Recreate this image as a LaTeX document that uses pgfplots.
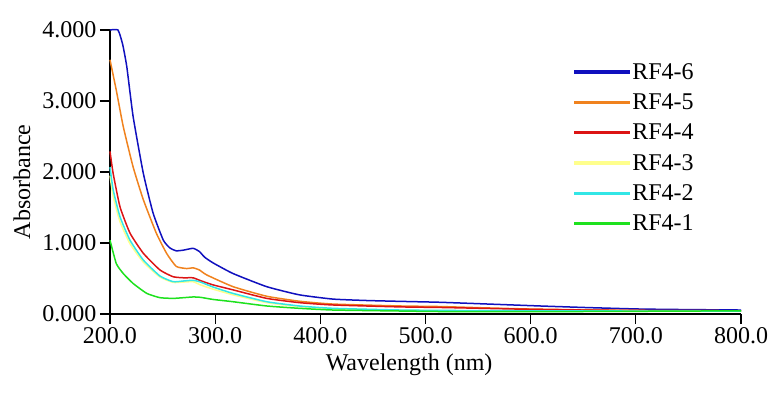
\documentclass[border=0pt]{standalone}
\usepackage{fontspec}
\setmainfont{Liberation Serif}
\usepackage{pgfplots}
\pgfplotsset{compat=1.18}
\definecolor{rfblue}{RGB}{16,16,190}
\definecolor{rforange}{RGB}{240,130,30}
\definecolor{rfred}{RGB}{220,20,20}
\definecolor{rfyellow}{RGB}{255,255,140}
\definecolor{rfcyan}{RGB}{50,230,230}
\definecolor{rfgreen}{RGB}{30,225,30}
\begin{document}
\begin{tikzpicture}
\begin{axis}[
  at={(110pt,86pt)}, anchor=south west,
  scale only axis, width=631pt, height=284pt,
  xmin=200, xmax=800, ymin=0, ymax=4,
  axis x line*=bottom, axis y line*=left,
  axis line style={line width=1.6pt},
  every tick/.style={line width=1.3pt, black},
  tick align=outside, major tick length=10pt,
  xtick={200,300,400,500,600,700,800},
  xticklabels={200.0,300.0,400.0,500.0,600.0,700.0,800.0},
  ytick={0,1,2,3,4},
  yticklabels={0.000,1.000,2.000,3.000,4.000},
  tick label style={font=\fontsize{24}{27}\selectfont},
  label style={font=\fontsize{24}{27}\selectfont},
  xlabel={Wavelength (nm)},
  ylabel={Absorbance},
  xlabel style={at={(axis description cs:0.474,0)}, anchor=north, yshift=-36pt},
  ylabel style={at={(axis description cs:0,0.465)}, anchor=south, yshift=76pt},
  clip=false,
  legend style={draw=none, fill=none, at={(axis cs:638,3.59)}, anchor=north west,
    font=\fontsize{24}{27}\selectfont, row sep=9pt,
    /tikz/every even column/.append style={column sep=4pt}},
  legend cell align=left,
  legend image code/.code={\fill[#1] (0pt,-0.9pt) rectangle (55pt,0.9pt);},
  every axis plot/.append style={line width=1.5pt, smooth, tension=0.3},
]
\addplot[rfblue] coordinates {
(200,4.0)(207.6,4.0)(212,3.8)(216,3.48)(222,2.78)(231.7,1.98)(241,1.42)(250.7,1.04)(257,0.93)(263,0.89)(270,0.9)(279,0.925)(285,0.88)(290,0.80)(298,0.72)(317,0.57)(349,0.385)(380,0.27)(412,0.21)(444,0.19)(476,0.178)(514,0.165)(560,0.14)(609,0.113)(655,0.09)(704,0.07)(750,0.062)(800,0.056)};
\addlegendentry{RF4-6}
\addplot[rforange] coordinates {
(200,3.58)(206,3.15)(212.6,2.64)(222,2.07)(231.7,1.61)(244,1.14)(254,0.85)(263,0.67)(273,0.64)(279,0.65)(285,0.62)(292,0.55)(317,0.385)(349,0.25)(380,0.18)(412,0.14)(476,0.113)(514,0.105)(560,0.085)(600,0.07)(650,0.058)(700,0.05)(750,0.047)(800,0.045)};
\addlegendentry{RF4-5}
\addplot[rfred] coordinates {
(200,2.29)(203,1.98)(209.5,1.51)(219,1.14)(231.7,0.855)(247.5,0.62)(260,0.525)(270,0.51)(279,0.51)(286,0.47)(298,0.41)(317,0.34)(349,0.22)(380,0.16)(412,0.127)(476,0.10)(514,0.092)(560,0.078)(600,0.066)(650,0.056)(700,0.05)(750,0.047)(800,0.045)};
\addlegendentry{RF4-4}
\addplot[rfyellow] coordinates {
(200,1.95)(203,1.66)(209.5,1.30)(219,0.99)(231.7,0.73)(247.5,0.52)(260,0.445)(270,0.45)(279,0.455)(286,0.41)(298,0.35)(317,0.27)(349,0.16)(380,0.105)(412,0.075)(476,0.053)(520,0.047)(600,0.042)(700,0.04)(800,0.04)};
\addlegendentry{RF4-3}
\addplot[rfcyan] coordinates {
(200,2.07)(203,1.75)(209.5,1.37)(219,1.04)(231.7,0.76)(247.5,0.535)(260,0.455)(270,0.465)(279,0.475)(286,0.45)(298,0.38)(317,0.29)(349,0.173)(380,0.113)(412,0.08)(476,0.056)(520,0.05)(600,0.045)(700,0.042)(800,0.042)};
\addlegendentry{RF4-2}
\addplot[rfgreen] coordinates {
(200,1.04)(206,0.71)(212.6,0.57)(222,0.43)(235,0.29)(247.5,0.23)(260,0.22)(270,0.23)(279,0.24)(286,0.235)(298,0.205)(317,0.173)(349,0.113)(380,0.08)(412,0.056)(476,0.042)(514,0.035)(600,0.033)(700,0.038)(800,0.045)};
\addlegendentry{RF4-1}
\end{axis}
\pgfresetboundingbox
\path (0,0) rectangle (774pt,400pt);
\end{tikzpicture}
\end{document}
